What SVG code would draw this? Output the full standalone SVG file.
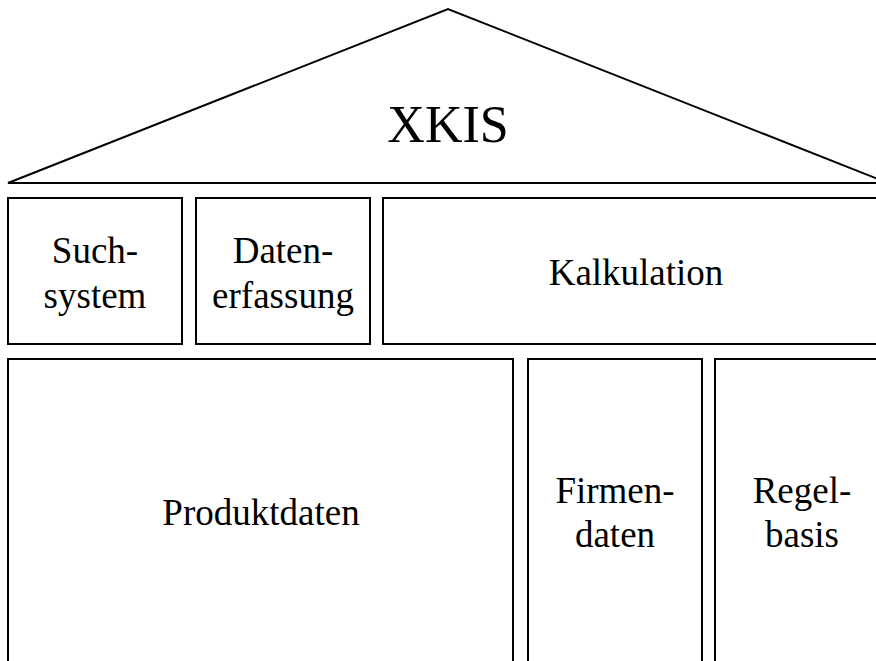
<svg xmlns="http://www.w3.org/2000/svg" width="876" height="661" viewBox="0 0 876 661">
<style>
.b{fill:#fff;stroke:#000;stroke-width:2}
.t{font-family:"Liberation Serif","Times New Roman",serif;font-size:37px;text-anchor:middle;fill:#000}
.big{font-size:52px}
</style>
<rect width="876" height="661" fill="#fff"/>
<g id="roof">
<polygon class="b" points="8,183 448,9 888,183"/>
<text class="t big" x="448" y="142">XKIS</text>
</g>
<g id="suchsystem">
<rect class="b" x="8" y="198" width="174" height="146"/>
<text class="t" x="95" y="263">Such-</text>
<text class="t" x="95" y="308">system</text>
</g>
<g id="datenerfassung">
<rect class="b" x="196" y="198" width="174" height="146"/>
<text class="t" x="283" y="263">Daten-</text>
<text class="t" x="283" y="308">erfassung</text>
</g>
<g id="kalkulation">
<rect class="b" x="383" y="198" width="507" height="146"/>
<text class="t" x="636" y="285">Kalkulation</text>
</g>
<g id="produktdaten">
<rect class="b" x="8" y="359" width="505" height="320"/>
<text class="t" x="261" y="525">Produktdaten</text>
</g>
<g id="firmendaten">
<rect class="b" x="528" y="359" width="174" height="320"/>
<text class="t" x="615" y="503">Firmen-</text>
<text class="t" x="615" y="547">daten</text>
</g>
<g id="regelbasis">
<rect class="b" x="715" y="359" width="175" height="320"/>
<text class="t" x="802" y="503">Regel-</text>
<text class="t" x="802" y="547">basis</text>
</g>
<g id="connectors"></g>
</svg>
